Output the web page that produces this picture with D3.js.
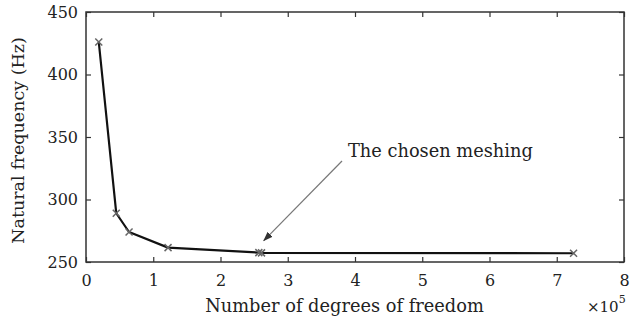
<!DOCTYPE html>
<html>
<head>
<meta charset="utf-8">
<script src="https://cdn.jsdelivr.net/npm/d3@7"></script>
<style>
  html, body { margin: 0; padding: 0; background: #fff; }
  svg { display: block; }
  text { font-family: "DejaVu Serif", "Liberation Serif", serif; fill: #222; }
</style>
</head>
<body>
<svg id="chart" width="632" height="323"></svg>
<script>
// Degrees of freedom (in units of 1e5) and the first natural frequency (Hz)
const dofs = [0.19, 0.45, 0.64, 1.22, 2.57, 2.61, 7.25];
const freqs = [426, 289, 274, 261.5, 257.5, 257.3, 257];
const xTicks = [0, 1, 2, 3, 4, 5, 6, 7, 8];
const yTicks = [250, 300, 350, 400, 450];
const chosenIndex = 4;

const svg = d3.select("#chart");
const m = { left: 86, right: 8, top: 12, bottom: 61 };
const W = 632, H = 323;

const x = d3.scaleLinear().domain([0, 8]).range([m.left, W - m.right]);
const y = d3.scaleLinear().domain([250, 450]).range([H - m.bottom, m.top]);

const tickLen = 5;
const axisColor = "#333";

function styleAxis(g) {
  g.select(".domain").remove();
  g.selectAll(".tick line").attr("stroke", axisColor).attr("stroke-width", 1.2);
  g.selectAll("text").attr("font-size", 16).attr("font-family", "DejaVu Serif").attr("fill", "#222");
}

// Bottom axis with inward ticks
svg.append("g")
  .attr("transform", `translate(0,${y(250)})`)
  .call(d3.axisBottom(x).tickValues(xTicks).tickSize(-tickLen).tickPadding(13).tickFormat(d3.format("d")))
  .call(styleAxis);

// Top axis ticks only
svg.append("g")
  .attr("transform", `translate(0,${y(450)})`)
  .call(d3.axisTop(x).tickValues(xTicks).tickSize(-tickLen).tickFormat(""))
  .call(styleAxis);

// Left axis with inward ticks
svg.append("g")
  .attr("transform", `translate(${x(0)},0)`)
  .call(d3.axisLeft(y).tickValues(yTicks).tickSize(-tickLen).tickPadding(8).tickFormat(d3.format("d")))
  .call(styleAxis);

// Right axis ticks only
svg.append("g")
  .attr("transform", `translate(${x(8)},0)`)
  .call(d3.axisRight(y).tickValues(yTicks).tickSize(-tickLen).tickFormat(""))
  .call(styleAxis);

// Frame
svg.append("rect")
  .attr("x", x(0)).attr("y", y(450))
  .attr("width", x(8) - x(0)).attr("height", y(250) - y(450))
  .attr("fill", "none").attr("stroke", axisColor).attr("stroke-width", 1.5);

// Convergence curve
const pts = dofs.map((d, i) => [d, freqs[i]]);
svg.append("path")
  .datum(pts)
  .attr("fill", "none")
  .attr("stroke", "#111")
  .attr("stroke-width", 2.2)
  .attr("stroke-linejoin", "round")
  .attr("d", d3.line().x(d => x(d[0])).y(d => y(d[1])));

// Cross markers
const s = 3.5;
svg.append("g").selectAll("path")
  .data(pts)
  .join("path")
  .attr("d", d => {
    const cx = x(d[0]), cy = y(d[1]);
    return `M${cx - s},${cy - s}L${cx + s},${cy + s}M${cx - s},${cy + s}L${cx + s},${cy - s}`;
  })
  .attr("stroke", "#666")
  .attr("stroke-width", 1.5)
  .attr("fill", "none");

// Annotation arrow
svg.append("defs").append("marker")
  .attr("id", "arrowhead")
  .attr("viewBox", "0 0 10 10")
  .attr("refX", 9).attr("refY", 5)
  .attr("markerWidth", 10).attr("markerHeight", 10)
  .attr("markerUnits", "userSpaceOnUse")
  .attr("orient", "auto")
  .append("path")
  .attr("d", "M0,1.5L10,5L0,8.5Z")
  .attr("fill", "#333");

const tip = [x(dofs[chosenIndex]) + 5, y(freqs[chosenIndex]) - 12];
svg.append("line")
  .attr("x1", 342).attr("y1", 161)
  .attr("x2", tip[0]).attr("y2", tip[1])
  .attr("stroke", "#777")
  .attr("stroke-width", 1.2)
  .attr("marker-end", "url(#arrowhead)");

svg.append("text")
  .attr("x", 348).attr("y", 157)
  .attr("font-size", 17.8)
  .text("The chosen meshing");

// Axis titles
svg.append("text")
  .attr("x", (206 + 483) / 2).attr("y", 312)
  .attr("text-anchor", "middle")
  .attr("font-size", 17.8)
  .text("Number of degrees of freedom");

svg.append("text")
  .attr("transform", `translate(24,${(33 + 248) / 2}) rotate(-90)`)
  .attr("text-anchor", "middle")
  .attr("font-size", 17.5)
  .text("Natural frequency (Hz)");

// Exponent multiplier
const mult = svg.append("text")
  .attr("x", 587).attr("y", 312)
  .attr("font-size", 15);
mult.append("tspan").text("×10");
mult.append("tspan").attr("dy", -9).attr("font-size", 11).text("5");
</script>
</body>
</html>
